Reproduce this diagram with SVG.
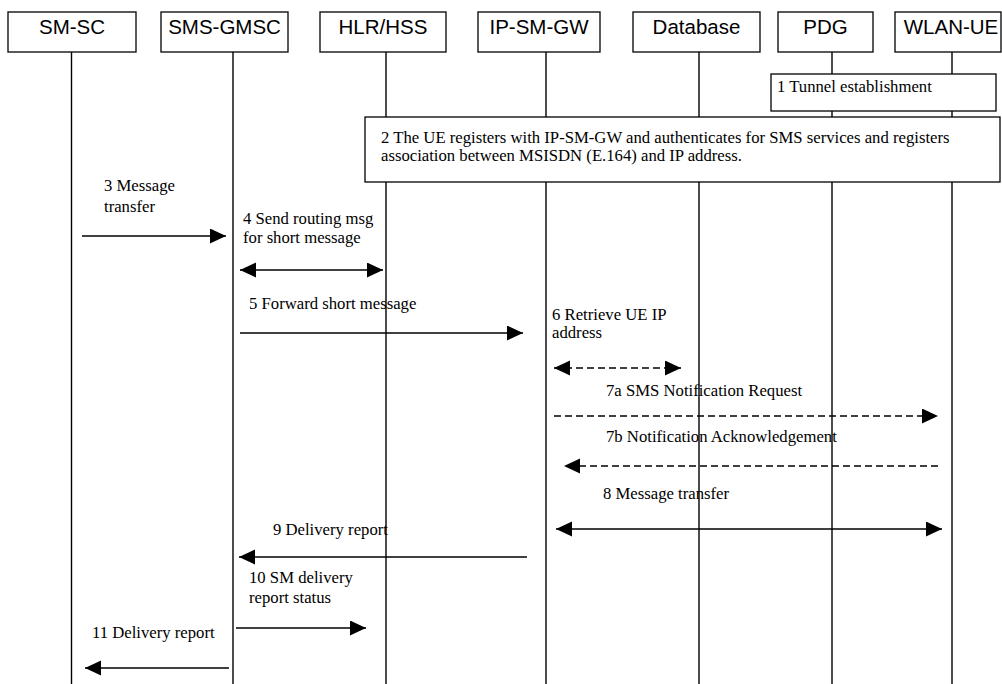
<svg xmlns="http://www.w3.org/2000/svg" width="1002" height="684" viewBox="0 0 1002 684">
<style>
.hdr{fill:#fff;stroke:#000;stroke-width:1.3}
.ht{font-family:"Liberation Sans",Arial,sans-serif;font-size:20.5px;fill:#000;text-anchor:middle}
.life{stroke:#000;stroke-width:1.4}
.box{fill:#fff;stroke:#000;stroke-width:1.3}
.t{font-family:"Liberation Serif","Times New Roman",serif;font-size:16.7px;fill:#000}
.msg{stroke:#000;stroke-width:1.5;fill:none;marker-end:url(#ah)}
.dbl{marker-start:url(#ah)}
.dash{stroke-dasharray:7 4}
</style>
<defs>
<marker id="ah" markerUnits="userSpaceOnUse" markerWidth="17" markerHeight="16" refX="16" refY="7.5" orient="auto-start-reverse">
<path d="M0,0 L16,7.5 L0,15 Z" fill="#000"/>
</marker>
</defs>
<rect width="1002" height="684" fill="#fff"/>
<g id="lifelines">
<line class="life" x1="71.5" y1="52" x2="71.5" y2="684"/>
<line class="life" x1="233" y1="52" x2="233" y2="684"/>
<line class="life" x1="386" y1="52" x2="386" y2="684"/>
<line class="life" x1="546" y1="52" x2="546" y2="684"/>
<line class="life" x1="699" y1="52" x2="699" y2="684"/>
<line class="life" x1="832" y1="52" x2="832" y2="684"/>
<line class="life" x1="952" y1="52" x2="952" y2="684"/>
</g>
<g id="n-smsc"><rect class="hdr" x="8" y="12" width="128" height="40"/><text class="ht" x="72" y="34">SM-SC</text></g>
<g id="n-gmsc"><rect class="hdr" x="161" y="12" width="127" height="40"/><text class="ht" x="224.5" y="34">SMS-GMSC</text></g>
<g id="n-hlr"><rect class="hdr" x="320" y="12" width="126" height="40"/><text class="ht" x="383" y="34">HLR/HSS</text></g>
<g id="n-ipsmgw"><rect class="hdr" x="478" y="12" width="122" height="40"/><text class="ht" x="539" y="34">IP-SM-GW</text></g>
<g id="n-db"><rect class="hdr" x="633" y="12" width="127" height="40"/><text class="ht" x="696.5" y="34">Database</text></g>
<g id="n-pdg"><rect class="hdr" x="778" y="12" width="95" height="40"/><text class="ht" x="825.5" y="34">PDG</text></g>
<g id="n-ue"><rect class="hdr" x="895" y="12" width="106" height="40"/><text class="ht" x="951" y="34">WLAN-UE</text></g>
<g id="step1"><rect class="box" x="771" y="74" width="225" height="37"/><text class="t" x="777" y="92">1 Tunnel establishment</text></g>
<g id="step2"><rect class="box" x="365" y="117" width="635" height="65"/><text class="t" x="381" y="143">2 The UE registers with IP-SM-GW and authenticates for SMS services and registers</text><text class="t" x="381" y="161">association between MSISDN (E.164) and IP address.</text></g>
<g id="labels">
<text class="t" x="104" y="191">3 Message</text>
<text class="t" x="104" y="212">transfer</text>
<text class="t" x="243" y="224">4 Send routing msg</text>
<text class="t" x="243" y="243">for short message</text>
<text class="t" x="249" y="309">5 Forward short message</text>
<text class="t" x="552" y="320">6 Retrieve UE IP</text>
<text class="t" x="552" y="338">address</text>
<text class="t" x="606" y="396">7a SMS Notification Request</text>
<text class="t" x="606" y="442">7b Notification Acknowledgement</text>
<text class="t" x="603" y="499">8 Message transfer</text>
<text class="t" x="273" y="535">9 Delivery report</text>
<text class="t" x="249" y="583">10 SM delivery</text>
<text class="t" x="249" y="603">report status</text>
<text class="t" x="92" y="638">11 Delivery report</text>
</g>
<g id="connectors">
<line class="msg" x1="82" y1="236" x2="226" y2="236"/>
<line class="msg dbl" x1="240" y1="270" x2="383" y2="270"/>
<line class="msg" x1="240" y1="333" x2="523" y2="333"/>
<line class="msg dbl dash" x1="554" y1="368" x2="681" y2="368"/>
<line class="msg dash" x1="554" y1="416" x2="938" y2="416"/>
<line class="msg dash" x1="938" y1="466" x2="564" y2="466"/>
<line class="msg dbl" x1="556" y1="529" x2="942" y2="529"/>
<line class="msg" x1="527" y1="557" x2="239" y2="557"/>
<line class="msg" x1="236" y1="628" x2="366" y2="628"/>
<line class="msg" x1="229" y1="668" x2="85" y2="668"/>
</g>
</svg>
